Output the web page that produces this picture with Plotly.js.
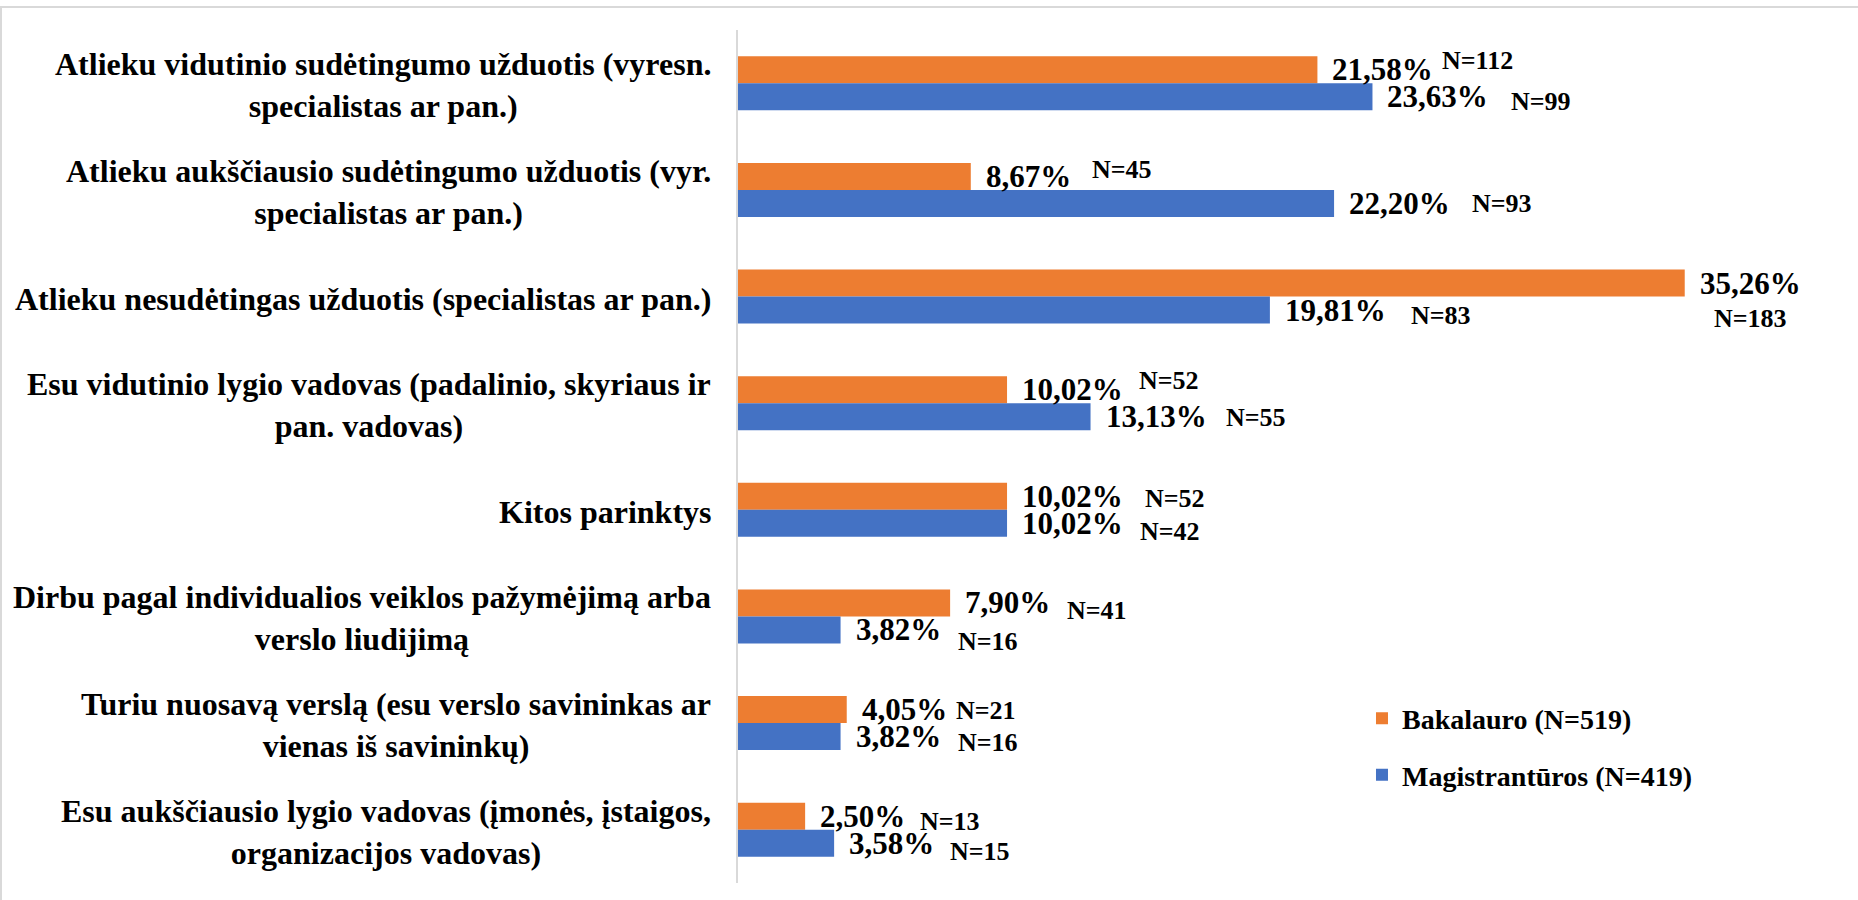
<!DOCTYPE html>
<html>
<head>
<meta charset="utf-8">
<script src="https://cdn.plot.ly/plotly-3.0.1.min.js"></script>
<style>
  html, body { margin: 0; padding: 0; background: #ffffff; }
  #wrap { position: relative; width: 1858px; height: 900px; }
  #chart { position: absolute; left: 0; top: 0; width: 1858px; height: 900px; }
  #frame { position: absolute; left: 0; top: 6px; width: 1858px; height: 894px; box-sizing: border-box;
           border-top: 2px solid #d9d9d9; border-left: 2px solid #d9d9d9; pointer-events: none; }
</style>
</head>
<body>
<div id="wrap">
  <div id="chart"></div>
  <div id="frame"></div>
</div>
<script>
// ---- data ----
const categories = [
  "Atlieku vidutinio sudėtingumo užduotis (vyresn.<br>specialistas ar pan.)",
  "Atlieku aukščiausio sudėtingumo užduotis (vyr.<br>specialistas ar pan.)",
  "Atlieku nesudėtingas užduotis (specialistas ar pan.)",
  "Esu vidutinio lygio vadovas (padalinio, skyriaus ir<br>pan. vadovas)",
  "Kitos parinktys",
  "Dirbu pagal individualios veiklos pažymėjimą arba<br>verslo liudijimą",
  "Turiu nuosavą verslą (esu verslo savininkas ar<br>vienas iš savininkų)",
  "Esu aukščiausio lygio vadovas (įmonės, įstaigos,<br>organizacijos vadovas)"
];
const seriesNames = ["Bakalauro (N=519)", "Magistrantūros (N=419)"];
const bakalauroPct = [21.58, 8.67, 35.26, 10.02, 10.02, 7.90, 4.05, 2.50];
const bakalauroN   = [112, 45, 183, 52, 52, 41, 21, 13];
const magistroPct  = [23.63, 22.20, 19.81, 13.13, 10.02, 3.82, 3.82, 3.58];
const magistroN    = [99, 93, 83, 55, 42, 16, 16, 15];

// ---- label placement tweaks (pixels) ----
const nDxBak = [125, 121, 29, 132, 138, 117, 109, 115];
const nDyBak = [-9, -7, 35, -9, 2, 8, 1, 5];
const nDxMag = [139, 138, 141, 135, 133, 117, 117, 116];
const nDyMag = [5, 0, 5, 1, 8, 12, 6, 8];

const colors = ["#ED7D31", "#4472C4"];
const FONT = "Liberation Serif, Times New Roman, serif";
const BAR_HALF = 13.5;

function fmt(v) { return v.toFixed(2).replace(".", ",") + "%"; }

const traces = [
  { type: "bar", orientation: "h", name: seriesNames[0], y: categories, x: bakalauroPct,
    marker: { color: colors[0], line: { width: 0 } }, legendgroup: "a", hoverinfo: "x+y" },
  { type: "bar", orientation: "h", name: seriesNames[1], y: categories, x: magistroPct,
    marker: { color: colors[1], line: { width: 0 } }, legendgroup: "b", hoverinfo: "x+y" }
];

const annotations = [];
// category labels
categories.forEach(function (c) {
  annotations.push({ xref: "paper", yref: "y", x: 0, y: c, text: c, showarrow: false,
    xanchor: "right", yanchor: "middle", align: "center", xshift: -25, yshift: -2,
    font: { family: FONT, size: 32, color: "#000000", weight: "bold" } });
});
// value labels
function addLabels(vals, ns, dxs, dys, up) {
  vals.forEach(function (v, i) {
    const baseShift = up ? BAR_HALF : -BAR_HALF;
    annotations.push({ xref: "x", yref: "y", x: v, y: categories[i], text: fmt(v), showarrow: false,
      xanchor: "left", yanchor: "middle", xshift: 13, yshift: baseShift,
      font: { family: FONT, size: 31, color: "#000000", weight: "bold" } });
    annotations.push({ xref: "x", yref: "y", x: v, y: categories[i], text: "N=" + ns[i], showarrow: false,
      xanchor: "left", yanchor: "middle", xshift: dxs[i] - 2, yshift: baseShift - dys[i],
      font: { family: FONT, size: 26, color: "#000000", weight: "bold" } });
  });
}
addLabels(bakalauroPct, bakalauroN, nDxBak, nDyBak, true);
addLabels(magistroPct, magistroN, nDxMag, nDyMag, false);

const layout = {
  width: 1858, height: 900,
  margin: { l: 738, r: 46, t: 30, b: 17, pad: 0 },
  paper_bgcolor: "rgba(0,0,0,0)", plot_bgcolor: "rgba(0,0,0,0)",
  barmode: "group", bargap: 0.494, bargroupgap: 0,
  xaxis: { range: [0, 40], visible: false, fixedrange: true },
  yaxis: { type: "category", autorange: "reversed", showticklabels: false, ticks: "",
           showgrid: false, zeroline: false, showline: true, linecolor: "#d9d9d9", linewidth: 2 },
  showlegend: true,
  legend: { x: 0.581, y: 0.222, xanchor: "left", yanchor: "top", traceorder: "grouped",
            tracegroupgap: 17, bgcolor: "rgba(0,0,0,0)",
            font: { family: FONT, size: 28, color: "#000000", weight: "bold" } },
  annotations: annotations
};

Plotly.newPlot("chart", traces, layout, { displayModeBar: false, staticPlot: true });
</script>
</body>
</html>
